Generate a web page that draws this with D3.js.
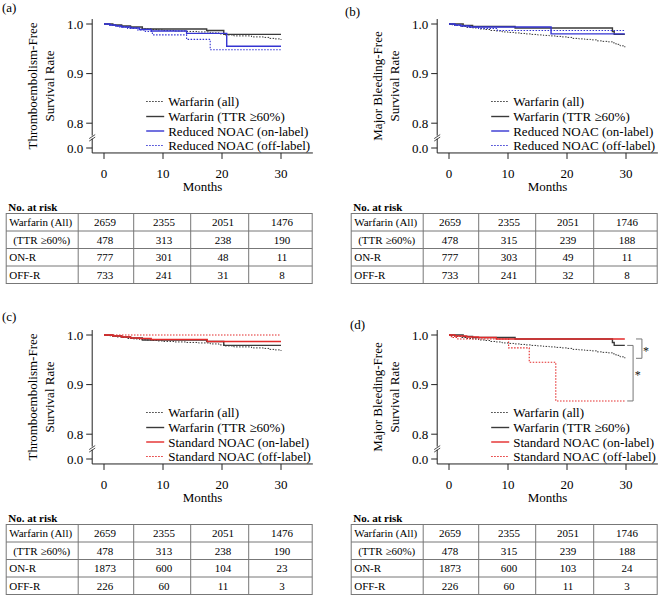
<!DOCTYPE html>
<html>
<head>
<meta charset="utf-8">
<script src="https://cdn.jsdelivr.net/npm/d3@7"></script>
<style>
  body { margin: 0; background: white; }
  svg text { font-family: 'Liberation Serif', Tinos, 'Times New Roman', 'DejaVu Serif', serif; }
</style>
</head>
<body>
<div id="wrapper"></div>
<script>
// x ticks (months) and y ticks
const months = [0, 10, 20, 30]
const yTicks = [0.8, 0.9, 1.0]
const riskRows = ['Warfarin (All)', '(TTR \u226560%)', 'ON-R', 'OFF-R']

// thromboembolism-free curves [month, survival]
const warfarinAllTE = [[0,1],[0.5,0.999],[1,0.998],[2,0.996],[3,0.995],[4,0.993],[5,0.992],[6,0.991],[7,0.99],[8,0.989],[9,0.988],[10,0.987],[12,0.986],[14,0.985],[16,0.984],[18,0.982],[19.5,0.98],[20.5,0.978],[22,0.976],[25,0.974],[27,0.973],[28,0.971],[29,0.97],[30,0.968]]
const warfarinTtrTE = [[0,1],[1.5,0.998],[3,0.996],[4.5,0.994],[6.5,0.99],[17.4,0.987],[20.3,0.979],[30,0.979]]
const reducedOnTE = [[0,1],[1,0.998],[2,0.996],[3,0.994],[4.5,0.992],[6,0.989],[8,0.986],[14,0.981],[20.8,0.955],[30,0.955]]
const reducedOffTE = [[0,1],[1,0.997],[2.5,0.994],[4,0.991],[5.5,0.988],[7,0.985],[8.2,0.978],[14,0.969],[18,0.948],[30,0.948]]
const standardOnTE = [[0,1],[1.5,0.998],[3,0.996],[4.5,0.994],[6,0.993],[8,0.991],[17.5,0.987],[30,0.987]]
const standardOffTE = [[0,1],[30,1]]

// major bleeding-free curves
const warfarinAllMB = [[0,1],[0.5,0.998],[1,0.997],[2,0.995],[3,0.993],[4,0.992],[5,0.99],[6,0.989],[7,0.987],[8,0.986],[9,0.984],[10,0.983],[11,0.982],[12,0.981],[13,0.98],[14,0.979],[15,0.978],[16,0.977],[17,0.976],[18,0.975],[19,0.974],[20,0.973],[21,0.971],[22,0.97],[23,0.969],[24,0.968],[25,0.966],[26,0.965],[27,0.964],[27.7,0.962],[28.3,0.959],[29,0.956],[29.8,0.953]]
const warfarinTtrMB = [[0,1],[2.4,0.997],[4,0.995],[11.2,0.992],[27.7,0.985],[28,0.979],[29.8,0.979]]
const reducedOnMB = [[0,1],[1,0.998],[2,0.996],[3.5,0.994],[17.3,0.98],[29.8,0.98]]
const reducedOffMB = [[0,1],[1,0.997],[3,0.994],[5,0.991],[8.2,0.987],[29.8,0.987]]
const standardOnMB = [[0,1],[1,0.998],[3,0.996],[5,0.995],[8,0.992],[29.8,0.992]]
const standardOffMB = [[0,1],[0.4,0.995],[1.5,0.992],[10.1,0.974],[13.6,0.945],[18.1,0.867],[29.8,0.867]]

// numbers at risk
const riskA = [[2659,2355,2051,1476],[478,313,238,190],[777,301,48,11],[733,241,31,8]]
const riskB = [[2659,2355,2051,1746],[478,315,239,188],[777,303,49,11],[733,241,32,8]]
const riskC = [[2659,2355,2051,1476],[478,313,238,190],[1873,600,104,23],[226,60,11,3]]
const riskD = [[2659,2355,2051,1746],[478,315,239,188],[1873,600,103,24],[226,60,11,3]]

const legendReduced = ['Warfarin (all)', 'Warfarin (TTR \u226560%)', 'Reduced NOAC (on-label)', 'Reduced NOAC (off-label)']
const legendStandard = ['Warfarin (all)', 'Warfarin (TTR \u226560%)', 'Standard NOAC (on-label)', 'Standard NOAC (off-label)']

const blue = '#3434d2'
const red = '#e42a2a'
const ink = '#222'

let dimensions = {
  width: 658,
  height: 595,
  dx: 345,
  dy: 311,
}

const wrapper = d3.select('#wrapper')
  .append('svg')
    .attr('width', dimensions.width)
    .attr('height', dimensions.height)

wrapper.append('rect')
  .attr('width', dimensions.width)
  .attr('height', dimensions.height)
  .attr('fill', 'white')

const xScale = d3.scaleLinear().domain([0, 30]).range([104, 281])
const yScale = d3.scaleLinear().domain([0.75, 1.0]).range([148, 24])
const lineGenerator = d3.line()
  .x(d => xScale(d[0]))
  .y(d => yScale(d[1]))
  .curve(d3.curveStepAfter)

const panels = [
  { tag: '(a)', col: 0, row: 0, tagPos: [2, 12], ylab: 'Thromboembolism-Free', legend: legendReduced,
    series: [warfarinAllTE, warfarinTtrTE, reducedOnTE, reducedOffTE], color: blue, risk: riskA },
  { tag: '(b)', col: 1, row: 0, tagPos: [0, 16], ylab: 'Major Bleeding-Free', legend: legendReduced,
    series: [warfarinAllMB, warfarinTtrMB, reducedOnMB, reducedOffMB], color: blue, risk: riskB },
  { tag: '(c)', col: 0, row: 1, tagPos: [2, 10], ylab: 'Thromboembolism-Free', legend: legendStandard,
    series: [warfarinAllTE, warfarinTtrTE, standardOnTE, standardOffTE], color: red, risk: riskC },
  { tag: '(d)', col: 1, row: 1, tagPos: [5, 18], ylab: 'Major Bleeding-Free', legend: legendStandard,
    series: [warfarinAllMB, warfarinTtrMB, standardOnMB, standardOffMB], color: red, risk: riskD, brackets: true },
]

const drawPanel = (p) => {
  const g = wrapper.append('g')
    .attr('transform', `translate(${p.col * dimensions.dx}, ${p.row * dimensions.dy})`)

  const styles = [
    { stroke: '#333', dash: '1.5,1.5', width: 1 },
    { stroke: '#3a3a3a', dash: null, width: 1.4 },
    { stroke: p.color, dash: null, width: 1.4 },
    { stroke: p.color, dash: '1.5,1.5', width: 1.1 },
  ]

  g.append('text')
    .attr('x', p.tagPos[0])
    .attr('y', p.tagPos[1])
    .style('font-size', '13px')
    .text(p.tag)

  // curves
  p.series.forEach((s, i) => {
    g.append('path')
      .attr('d', lineGenerator(s))
      .attr('fill', 'none')
      .attr('stroke', styles[i].stroke)
      .attr('stroke-width', styles[i].width)
      .attr('stroke-dasharray', styles[i].dash)
  })

  // L shaped box
  const ax = xScale(-2)
  const top = yScale(1.01)
  const bottom = yScale(0.74)
  g.append('path')
    .attr('d', `M${ax},${top}V${bottom}H${xScale(35.4)}`)
    .attr('fill', 'none')
    .attr('stroke', ink)
    .attr('stroke-width', 1)

  // y axis ticks, 0.0 sits on the broken part
  const yTickData = yTicks.map(v => ({ v: v, pos: yScale(v) })).concat([{ v: 0, pos: yScale(0.75) }])
  yTickData.forEach(t => {
    g.append('line')
      .attr('x1', ax - 6).attr('x2', ax)
      .attr('y1', t.pos).attr('y2', t.pos)
      .attr('stroke', ink)
    g.append('text')
      .attr('x', ax - 9)
      .attr('y', t.pos + 4.5)
      .attr('text-anchor', 'end')
      .style('font-size', '13px')
      .text(d3.format('.1f')(t.v))
  })

  // axis break marks
  const yb = yScale(0.771)
  g.append('rect')
    .attr('x', ax - 2).attr('y', yb - 2)
    .attr('width', 4).attr('height', 3)
    .attr('fill', 'white')
  g.append('path')
    .attr('d', `M${ax - 3},${yb + 1}L${ax + 3},${yb - 3}M${ax - 3},${yb + 3.5}L${ax + 3},${yb - 0.5}`)
    .attr('stroke', ink)
    .attr('stroke-width', 0.8)

  // x axis ticks
  months.forEach(m => {
    g.append('line')
      .attr('x1', xScale(m)).attr('x2', xScale(m))
      .attr('y1', bottom).attr('y2', bottom + 6)
      .attr('stroke', ink)
    g.append('text')
      .attr('x', xScale(m))
      .attr('y', 178)
      .attr('text-anchor', 'middle')
      .style('font-size', '13px')
      .text(m)
  })

  g.append('text')
    .attr('x', (ax + xScale(35.4)) / 2)
    .attr('y', 191)
    .attr('text-anchor', 'middle')
    .style('font-size', '13px')
    .text('Months')

  // y axis label, two lines
  const ylabLines = [p.ylab, 'Survival Rate']
  ylabLines.forEach((txt, i) => {
    g.append('text')
      .attr('transform', `translate(${ax - 55 + i * 17}, ${(top + bottom) / 2}) rotate(-90)`)
      .attr('text-anchor', 'middle')
      .style('font-size', '13px')
      .text(txt)
  })

  // legend
  const legendY = [101.5, 116.5, 131, 145.5]
  p.legend.forEach((txt, i) => {
    g.append('line')
      .attr('x1', ax + 54).attr('x2', ax + 72)
      .attr('y1', legendY[i]).attr('y2', legendY[i])
      .attr('stroke', styles[i].stroke)
      .attr('stroke-width', styles[i].width)
      .attr('stroke-dasharray', styles[i].dash)
    g.append('text')
      .attr('x', ax + 76)
      .attr('y', legendY[i] + 4.5)
      .style('font-size', '13px')
      .text(txt)
  })

  // significance brackets
  if (p.brackets) {
    const last = s => s[s.length - 1][1]
    const bracket = (x0, x1, v0, v1, starX, starY) => {
      g.append('path')
        .attr('d', `M${xScale(x0)},${yScale(v0)}H${xScale(x1)}V${yScale(v1)}H${xScale(x0)}`)
        .attr('fill', 'none')
        .attr('stroke', '#777')
        .attr('stroke-width', 1)
      g.append('text')
        .attr('x', starX)
        .attr('y', starY)
        .attr('text-anchor', 'middle')
        .attr('fill', '#111')
        .style('font-size', '12px')
        .text('*')
    }
    bracket(31.7, 32.7, last(p.series[2]), last(p.series[0]), xScale(33.4), 44)
    bracket(30.2, 31.2, last(p.series[1]), last(p.series[3]), xScale(32.0), 68)
  }

  // number at risk table
  g.append('text')
    .attr('x', ax - 84)
    .attr('y', 211)
    .style('font-size', '11px')
    .style('font-weight', 'bold')
    .text('No. at risk')

  const tLeft = ax - 86
  const tRight = ax + 220
  const tTop = 213.5
  const rowH = 17.5
  const cols = [ax - 14, ax + 41.5, ax + 98.5, ax + 156.5]

  g.append('rect')
    .attr('x', tLeft).attr('y', tTop)
    .attr('width', tRight - tLeft).attr('height', rowH * 4)
    .attr('fill', 'none')
    .attr('stroke', '#777')
  cols.forEach(c => {
    g.append('line')
      .attr('x1', c).attr('x2', c)
      .attr('y1', tTop).attr('y2', tTop + rowH * 4)
      .attr('stroke', '#777')
  })
  d3.range(1, 4).forEach(r => {
    g.append('line')
      .attr('x1', tLeft).attr('x2', tRight)
      .attr('y1', tTop + r * rowH).attr('y2', tTop + r * rowH)
      .attr('stroke', '#777')
  })
  riskRows.forEach((lab, r) => {
    const cy = tTop + r * rowH + rowH / 2 + 4
    g.append('text')
      .attr('x', r === 1 ? tLeft + 7 : tLeft + 3)
      .attr('y', cy)
      .style('font-size', '11px')
      .text(lab)
    p.risk[r].forEach((n, c) => {
      g.append('text')
        .attr('x', xScale(months[c]) + 1)
        .attr('y', cy)
        .attr('text-anchor', 'middle')
        .style('font-size', '11px')
        .text(n)
    })
  })
}

panels.forEach(drawPanel)
</script>
</body>
</html>
